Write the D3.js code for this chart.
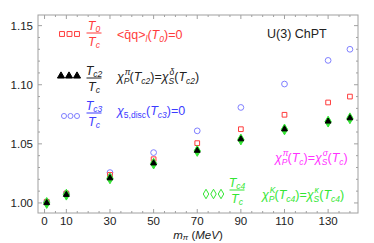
<!DOCTYPE html>
<html>
<head>
<meta charset="utf-8">
<script src="https://cdn.jsdelivr.net/npm/d3@7"></script>
<style>
  body { margin: 0; background: #fff; }
  svg { font-family: "Liberation Sans", Arial, sans-serif; }
  .it { font-style: italic; }
</style>
</head>
<body>
<svg id="chart" width="374" height="243"></svg>
<script>
// MARK: Data.

const mPi   = [1, 10, 30, 50, 70, 90, 110, 130, 140]
const t0    = [1.001, 1.008, 1.0237, 1.037, 1.0506, 1.0624, 1.0746, 1.085, 1.090]
const tc2   = [1.000, 1.007, 1.021, 1.0336, 1.0443, 1.054, 1.0624, 1.069, 1.0718]
const tc3   = [1.001, 1.008, 1.0257, 1.0426, 1.061, 1.0808, 1.1006, 1.1206, 1.130]
const tc4   = [1.000, 1.007, 1.0208, 1.0333, 1.0440, 1.0537, 1.0622, 1.0688, 1.0716]

const xTicks = [0, 10, 30, 50, 70, 90, 110, 130]
const yTicks = [1.00, 1.05, 1.10, 1.15]

// MARK: Layout.

const svg        = d3.select('#chart')
const plotLeft   = 38
const plotRight  = 358
const plotTop    = 15
const plotBottom = 213

const x = d3.scaleLinear().domain([-3, 143.7]).range([plotLeft, plotRight])
const y = d3.scaleLinear().domain([0.9915, 1.159]).range([plotBottom, plotTop])

const RED     = '#ff3b3b'
const BLUE    = '#7f7fff'
const BLUE_TX = '#3c3cff'
const GREEN   = '#33e633'
const MAGENTA = '#ff33ff'
const DARK    = '#222'
const FRAME   = '#a0a0a0'

const FS  = 12.5  // legend font size
const SFS = 8.5   // script font size

// Frame.
svg.append('rect')
  .attr('x', plotLeft).attr('y', plotTop)
  .attr('width', plotRight - plotLeft).attr('height', plotBottom - plotTop)
  .attr('fill', 'none').attr('stroke', FRAME).attr('stroke-width', 1)

// Ticks on all four sides, pointing inwards.
const minorX = d3.range(0, 141, 5)
const minorY = d3.range(1.00, 1.1551, 0.01)
const ticks  = svg.append('g').attr('stroke', FRAME).attr('stroke-width', 1)
for (const v of minorX) {
  const major = xTicks.includes(v)
  const len   = major ? 4 : 2
  ticks.append('line').attr('x1', x(v)).attr('x2', x(v)).attr('y1', plotBottom).attr('y2', plotBottom - len)
  ticks.append('line').attr('x1', x(v)).attr('x2', x(v)).attr('y1', plotTop).attr('y2', plotTop + len)
}
for (const v of minorY) {
  const major = yTicks.some((t) => Math.abs(t - v) < 1e-6)
  const len   = major ? 4 : 2
  ticks.append('line').attr('y1', y(v)).attr('y2', y(v)).attr('x1', plotLeft).attr('x2', plotLeft + len)
  ticks.append('line').attr('y1', y(v)).attr('y2', y(v)).attr('x1', plotRight).attr('x2', plotRight - len)
}

// Tick labels.
svg.append('g').selectAll('text').data(xTicks).enter().append('text')
  .attr('x', (d) => x(d)).attr('y', 225)
  .attr('text-anchor', 'middle').attr('font-size', 11.5).attr('fill', DARK)
  .text((d) => d)
svg.append('g').selectAll('text').data(yTicks).enter().append('text')
  .attr('x', 33).attr('y', (d) => y(d) + 4)
  .attr('text-anchor', 'end').attr('font-size', 11.5).attr('fill', DARK)
  .text((d) => d.toFixed(2))

// Axis title.
const xl = svg.append('text').attr('x', 198).attr('y', 238.5)
  .attr('text-anchor', 'middle').attr('font-size', 11.5).attr('fill', DARK)
xl.append('tspan').attr('class', 'it').text('m')
xl.append('tspan').attr('class', 'it').attr('font-size', 8).attr('dy', 1.5).text('π')
xl.append('tspan').attr('dy', -1.5).text(' (')
xl.append('tspan').attr('class', 'it').text('MeV')
xl.append('tspan').text(')')

// MARK: Markers.

const symbolPath = (type, size) => d3.symbol().type(type).size(size)()

function drawSeries(values, type, size, fill, stroke) {
  svg.append('g').selectAll('path').data(values).enter().append('path')
    .attr('transform', (d, i) => `translate(${x(mPi[i])},${y(d)})`)
    .attr('d', symbolPath(type, size))
    .attr('fill', fill).attr('stroke', stroke).attr('stroke-width', 1)
}

drawSeries(tc3, d3.symbolCircle, 26, 'none', BLUE)
drawSeries(t0, d3.symbolSquare, 22, 'none', RED)
drawSeries(tc4, d3.symbolDiamond, 34, GREEN, GREEN)
drawSeries(tc2, d3.symbolTriangle, 15, '#000', '#000')

// MARK: Legend.

function legendMarks(x0, step, cy, type, size, fill, stroke) {
  for (let i = 0; i < 3; i++) {
    svg.append('path')
      .attr('transform', `translate(${x0 + i * step},${cy})`)
      .attr('d', symbolPath(type, size))
      .attr('fill', fill).attr('stroke', stroke).attr('stroke-width', 1)
  }
}

function fraction(cx, lineY, sub, color) {
  const num = svg.append('text').attr('x', cx).attr('y', lineY - 3.5)
    .attr('text-anchor', 'middle').attr('font-size', FS).attr('fill', color).attr('class', 'it')
  num.append('tspan').text('T')
  num.append('tspan').attr('font-size', SFS).attr('dy', 2).text(sub)
  svg.append('line').attr('x1', cx - 7.5).attr('x2', cx + 7.5).attr('y1', lineY).attr('y2', lineY)
    .attr('stroke', color).attr('stroke-width', 1)
  const den = svg.append('text').attr('x', cx).attr('y', lineY + 12.5)
    .attr('text-anchor', 'middle').attr('font-size', FS).attr('fill', color).attr('class', 'it')
  den.append('tspan').text('T')
  den.append('tspan').attr('font-size', SFS).attr('dy', 2).text('c')
}

// Rich text helper: parts are [text, style, sup?]. Style is 'n', 'i', 'sub' or 'subi'. A subscript
// part may carry a superscript stacked right above it.
function rich(x0, y0, color, parts) {
  const t = svg.append('text').attr('x', x0).attr('y', y0).attr('font-size', FS).attr('fill', color)
  let shift = 0
  const stacked = []
  for (const [s, style, sup] of parts) {
    const target = style.startsWith('sub') ? 3 : 0
    const span   = t.append('tspan').attr('dy', target - shift).text(s)
    shift = target
    if (style === 'i' || style === 'subi') span.attr('class', 'it')
    if (target !== 0) span.attr('font-size', SFS)
    if (sup) stacked.push([span, sup])
  }
  for (const [span, sup] of stacked) {
    const bx = span.node().getBBox().x
    svg.append('text').attr('x', bx + 1).attr('y', y0 - 6)
      .attr('font-size', SFS).attr('fill', color).attr('class', 'it').text(sup)
  }
  return t
}

// Red: T0/Tc.
legendMarks(62, 7.5, 34, d3.symbolSquare, 24, 'none', RED)
fraction(94, 33, '0', RED)
rich(117, 39, RED, [['<', 'n'], ['q\u0304q', 'n'], ['>', 'n'], ['l', 'subi'], ['(', 'n'], ['T', 'i'], ['0', 'subi'], [')=0', 'n']])

// Black: Tc2/Tc.
legendMarks(61, 8, 76, d3.symbolTriangle, 22, '#000', '#000')
fraction(94, 78, 'c2', DARK)
rich(117, 81, DARK, [['χ', 'i'], ['P', 'subi', 'π'], ['(', 'n'], ['T', 'i'], ['c2', 'subi'], [')=', 'n'],
  ['χ', 'i'], ['S', 'subi', 'δ'], ['(', 'n'], ['T', 'i'], ['c2', 'subi'], [')', 'n']])

// Blue: Tc3/Tc.
legendMarks(64, 6.5, 116, d3.symbolCircle, 20, 'none', BLUE)
fraction(94, 113, 'c3', BLUE_TX)
rich(117, 115, BLUE_TX, [['χ', 'i'], ['5,disc', 'sub'], ['(', 'n'], ['T', 'i'], ['c3', 'subi'], [')=0', 'n']])

// Model name.
svg.append('text').attr('x', 267).attr('y', 38).attr('font-size', 12.5).attr('fill', DARK).text('U(3) ChPT')

// Magenta: Tc definition.
rich(275, 162, MAGENTA, [['χ', 'i'], ['P', 'subi', 'π'], ['(', 'n'], ['T', 'i'], ['c', 'subi'], [')=', 'n'],
  ['χ', 'i'], ['S', 'subi', 'σ'], ['(', 'n'], ['T', 'i'], ['c', 'subi'], [')', 'n']])

// Green: Tc4/Tc.
legendMarks(206, 7.5, 194, d3.symbolDiamond, 26, 'none', GREEN)
fraction(237, 190, 'c4', GREEN)
rich(262, 199, GREEN, [['χ', 'i'], ['P', 'subi', 'K'], ['(', 'n'], ['T', 'i'], ['c4', 'subi'], [')=', 'n'],
  ['χ', 'i'], ['S', 'subi', 'κ'], ['(', 'n'], ['T', 'i'], ['c4', 'subi'], [')', 'n']])
</script>
</body>
</html>
